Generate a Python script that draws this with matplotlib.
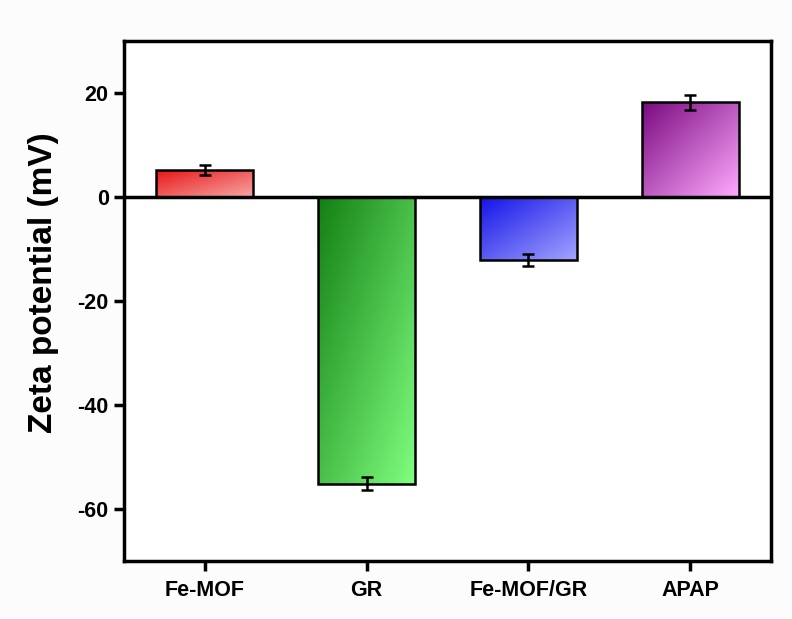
import numpy as np
import matplotlib
matplotlib.use("Agg")
import matplotlib.pyplot as plt
from matplotlib.colors import LinearSegmentedColormap

categories = ["Fe-MOF", "GR", "Fe-MOF/GR", "APAP"]
values = [5.2, -55.1, -12.1, 18.2]
errors = [0.9, 1.3, 1.15, 1.5]
dark_colors = ["#e81414", "#138013", "#1414e8", "#7a0a80"]
light_colors = ["#f7a6a6", "#80ff80", "#a4a4ff", "#ffaaff"]

plt.rcParams['font.family'] = ['Liberation Sans', 'DejaVu Sans']
plt.rcParams['font.weight'] = 'bold'

fig = plt.figure(figsize=(7.92, 6.19), dpi=100, facecolor="#fcfcfc")
ax = fig.add_axes([124/792, 1-561/619, (771-124)/792, (561-41)/619])
ax.set_facecolor("white")

x = np.arange(1, len(categories) + 1)
bars = ax.bar(x, values, width=0.6, color="none", edgecolor="black", linewidth=1.8, zorder=3)

# diagonal gradient fill for each bar
gy, gx = np.mgrid[0:1:100j, 0:1:100j]
grad = (gx + gy) / 2.0  # 0 at top-left, 1 at bottom-right (origin upper)
for b, c0, c1 in zip(bars, dark_colors, light_colors):
    cmap = LinearSegmentedColormap.from_list("g", [c0, c1])
    x0, y0 = b.get_x(), b.get_y()
    w, h = b.get_width(), b.get_height()
    ylo, yhi = min(y0, y0 + h), max(y0, y0 + h)
    im = ax.imshow(grad, cmap=cmap, extent=[x0, x0 + w, ylo, yhi],
                   origin="upper", aspect="auto", zorder=2, interpolation="bilinear")
    im.set_clip_path(b)

ax.errorbar(x, values, yerr=errors, fmt="none", ecolor="black", elinewidth=1.8,
            capsize=4.5, capthick=1.8, zorder=4)

ax.axhline(0, color="black", linewidth=2.5, zorder=5)

ax.set_xlim(0.5, 4.5)
ax.set_ylim(-70, 30)
ax.set_xticks(x)
ax.set_xticklabels(categories)
ax.set_yticks([-60, -40, -20, 0, 20])
ax.set_yticklabels(["-60", "-40", "-20", "0", "20"])

for s in ax.spines.values():
    s.set_linewidth(2.5)
ax.tick_params(axis="both", direction="out", length=7, width=2.5, labelsize=15.5,
               top=False, right=False)
for lab in ax.get_xticklabels() + ax.get_yticklabels():
    lab.set_fontweight("bold")
ax.tick_params(axis="x", pad=7)
ax.tick_params(axis="y", pad=4)

ax.set_ylabel("Zeta potential (mV)", fontsize=24, fontweight="bold")
ax.yaxis.set_label_coords(-0.10, 0.535)

fig.savefig("out.png", dpi=100, facecolor=fig.get_facecolor())
